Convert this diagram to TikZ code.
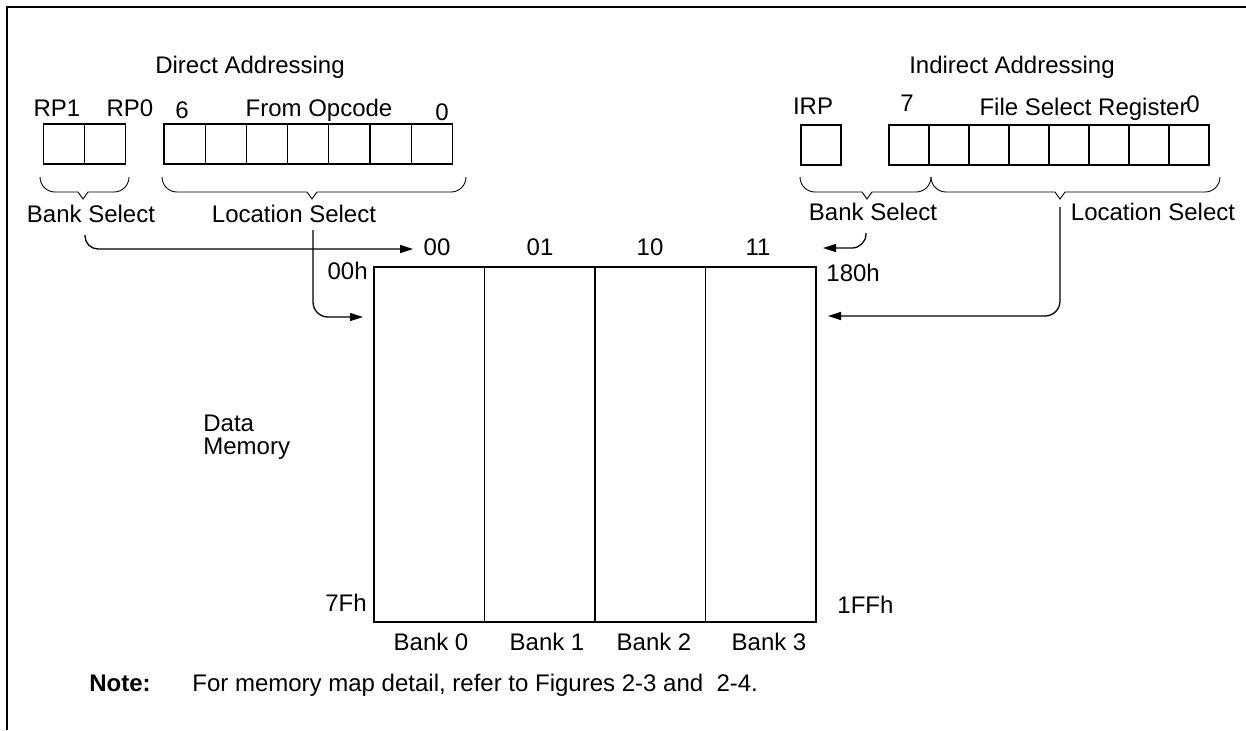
\documentclass[tikz,border=0pt]{standalone}
\usepackage{fontspec}
\setmainfont{Liberation Sans}
\usetikzlibrary{arrows.meta, positioning}

% flat curly brace under a register: left end, right end, tip
\newcommand{\regbrace}[3]{%
  \draw[brc] (#1,177) to[out=-90,in=180] (#1+15,192) -- (#3-5,192) -- (#3,199)
    -- (#3+5,192) -- (#2-15,192) to[out=0,in=-90] (#2,177);
}

\begin{document}
\begin{tikzpicture}[x=0.5pt, y=-0.5pt,
    txt/.style={inner sep=0pt, font=\fontsize{12}{14}\selectfont, text height=8.6pt, text depth=0pt},
    cell/.style={draw, line width=0.65pt, minimum width=20.6pt, minimum height=20pt, inner sep=0pt, outer sep=0pt},
    bankcol/.style={draw, line width=0.65pt, minimum width=55.25pt, minimum height=177.5pt, inner sep=0pt, outer sep=0pt},
    arr/.style={-{Triangle[length=6.5pt, width=4pt]}, line width=0.65pt},
    brc/.style={line width=0.45pt}
]
    \useasboundingbox (0,0) rectangle (1246,730);
    \draw[line width=1pt] (7,730) -- (7,7) -- (1246,7);

    % Direct addressing
    \node[txt] (dirhead) at (250,65) {Direct Addressing};
    \node[txt] (rp1lbl) at (57,108) {RP1};
    \node[txt] (rp0lbl) at (130,108) {RP0};
    \node[txt] (bit6) at (182,110) {6};
    \node[txt] (opclbl) at (319,108) {From Opcode};
    \node[txt] (bit0) at (442,112) {0};

    \node[cell] (rp1) at (64,144) {};
    \node[cell, right=0pt of rp1] (rp0) {};
    \node[cell] (op6) at (184.6,144) {};
    \foreach \i [remember=\i as \last (initially 6)] in {5,...,0}
        \node[cell, right=0pt of op\last] (op\i) {};

    \regbrace{40}{129}{83}
    \regbrace{162}{466}{312}
    \node[txt] (bsL) at (91,214) {Bank Select};
    \node[txt] (lsL) at (294,214) {Location Select};

    % Indirect addressing
    \node[txt] (indhead) at (1012,65) {Indirect Addressing};
    \node[txt] (irplbl) at (813,106) {IRP};
    \node[txt] (fbit7) at (907,103) {7};
    \node[txt, anchor=east] (fsrlbl) at (1188,107) {File Select Register};
    \node[txt] (fbit0) at (1193,104) {0};

    \node[cell, minimum width=20pt] (irp) at (821,145) {};
    \node[cell, minimum width=20pt] (fsr7) at (909,145) {};
    \foreach \i [remember=\i as \last (initially 7)] in {6,...,0}
        \node[cell, minimum width=20pt, right=0pt of fsr\last] (fsr\i) {};

    \regbrace{800}{931}{867}
    \regbrace{931}{1220}{1060}
    \node[txt] (bsR) at (873,212) {Bank Select};
    \node[txt] (lsR) at (1153,212) {Location Select};

    % Data memory banks
    \node[bankcol] (bank0) at (429.25,444.5) {};
    \foreach \i [remember=\i as \last (initially 0)] in {1,2,3}
        \node[bankcol, right=0pt of bank\last] (bank\i) {};

    \node[txt] (sel00) at (437,247) {00};
    \node[txt] (sel01) at (540,247) {01};
    \node[txt] (sel10) at (650,247) {10};
    \node[txt] (sel11) at (758,247) {11};

    \node[txt, anchor=east] (a00h) at (368,271) {00h};
    \node[txt, anchor=east] (a7fh) at (367,603) {7Fh};
    \node[txt, anchor=west] (a180h) at (826,273) {180h};
    \node[txt, anchor=west] (a1ffh) at (837,605) {1FFh};

    \node[txt] (bk0) at (431,642) {Bank 0};
    \node[txt] (bk1) at (547,642) {Bank 1};
    \node[txt] (bk2) at (654,642) {Bank 2};
    \node[txt] (bk3) at (769,642) {Bank 3};

    \node[inner sep=0pt, font=\fontsize{12}{11.5}\selectfont, align=left, anchor=base west] (datamem) at (203,454) {Data\\Memory};

    % connectors
    \coordinate (bsLout) at (85,235);
    \coordinate (bsLin) at (413,249);
    \coordinate (lsLout) at (313,230);
    \coordinate (lsLin) at (363,317);
    \coordinate (bsRout) at (866,233);
    \coordinate (bsRin) at (823,248);
    \coordinate (lsRout) at (1060,207);
    \coordinate (lsRin) at (828,316);

    \draw[arr, rounded corners=6.5pt] (bsLout) |- (bsLin);
    \draw[arr, rounded corners=7.5pt] (lsLout) |- (lsLin);
    \draw[arr, rounded corners=7pt] (bsRout) |- (bsRin);
    \draw[arr, rounded corners=7.5pt] (lsRout) |- (lsRin);

    % note
    \node[txt, font=\fontsize{12}{14}\selectfont\bfseries] (notehd) at (120,683) {Note:};
    \node[txt, anchor=west] (notetxt) at (192,683) {For memory map detail, refer to Figures 2-3 and\ \ 2-4.};
\end{tikzpicture}
\end{document}
